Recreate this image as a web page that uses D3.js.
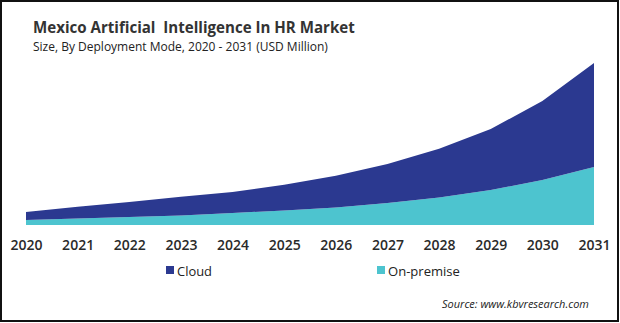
<!DOCTYPE html>
<html>
<head>
<meta charset="utf-8">
<script src="https://cdn.jsdelivr.net/npm/d3@7.9.0/dist/d3.min.js"></script>
<style>
  body { margin: 0; background: #fff; }
  svg { display: block; font-family: "Open Sans", "Noto Sans", sans-serif; }
</style>
</head>
<body>
<svg id="chart" width="620" height="323"></svg>
<script>
const years = [2020, 2021, 2022, 2023, 2024, 2025, 2026, 2027, 2028, 2029, 2030, 2031];
const onPremise = [2.5, 3.3, 4.0, 4.8, 6.0, 7.3, 8.8, 11.0, 13.8, 17.5, 22.5, 29.0];
const cloud = [4.0, 5.8, 7.5, 9.3, 10.5, 12.8, 15.8, 19.5, 24.3, 30.5, 39.5, 52.0];
const seriesNames = ['On-premise', 'Cloud'];
const colors = { 'Cloud': '#2b3990', 'On-premise': '#4dc4cf' };

const svg = d3.select('#chart');

// frame
svg.append('rect')
  .attr('x', 1).attr('y', 1).attr('width', 617).attr('height', 320)
  .attr('fill', 'none').attr('stroke', '#111').attr('stroke-width', 2);

// fit a text element to a target width by tweaking its font size
function fitText(sel, width) {
  const node = sel.node();
  const fs = parseFloat(sel.attr('font-size'));
  const w = node.getComputedTextLength();
  sel.attr('font-size', (fs * width / w).toFixed(2));
}

const title = svg.append('text')
  .attr('x', 33).attr('y', 33)
  .attr('font-size', 17).attr('font-weight', 700).attr('fill', '#333')
  .attr('xml:space', 'preserve')
  .text('Mexico Artificial  Intelligence In HR Market');
fitText(title, 322);

const sub = svg.append('text')
  .attr('x', 33).attr('y', 51)
  .attr('font-size', 13).attr('fill', '#222')
  .text('Size, By Deployment Mode,  2020 - 2031 (USD Million)');
fitText(sub, 295);

const x = d3.scalePoint().domain(years).range([26, 594]);
const y = d3.scaleLinear().domain([0, 81]).range([225, 63]);

const table = years.map((yr, i) => ({ year: yr, 'On-premise': onPremise[i], 'Cloud': cloud[i] }));
const stacked = d3.stack().keys(seriesNames)(table);

const area = d3.area()
  .x(d => x(d.data.year))
  .y0(d => y(d[0]))
  .y1(d => y(d[1]));

svg.selectAll('path.series')
  .data(stacked)
  .join('path')
  .attr('class', 'series')
  .attr('d', area)
  .attr('fill', d => colors[d.key]);

const xAxis = svg.append('g')
  .attr('transform', 'translate(0,240)')
  .call(d3.axisBottom(x).tickSize(0).tickPadding(0));
xAxis.select('.domain').remove();
xAxis.selectAll('text')
  .attr('dy', '0.71em')
  .attr('font-family', '"Open Sans", sans-serif')
  .attr('font-size', 14)
  .attr('font-weight', 600)
  .attr('fill', '#2a2a2a');

// legend
const legendItems = [
  { name: 'Cloud', x: 166, w: 35 },
  { name: 'On-premise', x: 377, w: 72 }
];
const legend = svg.append('g');
legendItems.forEach(item => {
  legend.append('rect')
    .attr('x', item.x).attr('y', 266).attr('width', 8).attr('height', 8)
    .attr('fill', colors[item.name]);
  const t = legend.append('text')
    .attr('x', item.x + 11).attr('y', 276)
    .attr('font-size', 14).attr('fill', '#222')
    .text(item.name);
  fitText(t, item.w);
});

const src = svg.append('text')
  .attr('x', 442).attr('y', 308)
  .attr('font-size', 12).attr('font-style', 'italic').attr('fill', '#222')
  .text('Source: www.kbvresearch.com');
fitText(src, 147);
</script>
</body>
</html>
